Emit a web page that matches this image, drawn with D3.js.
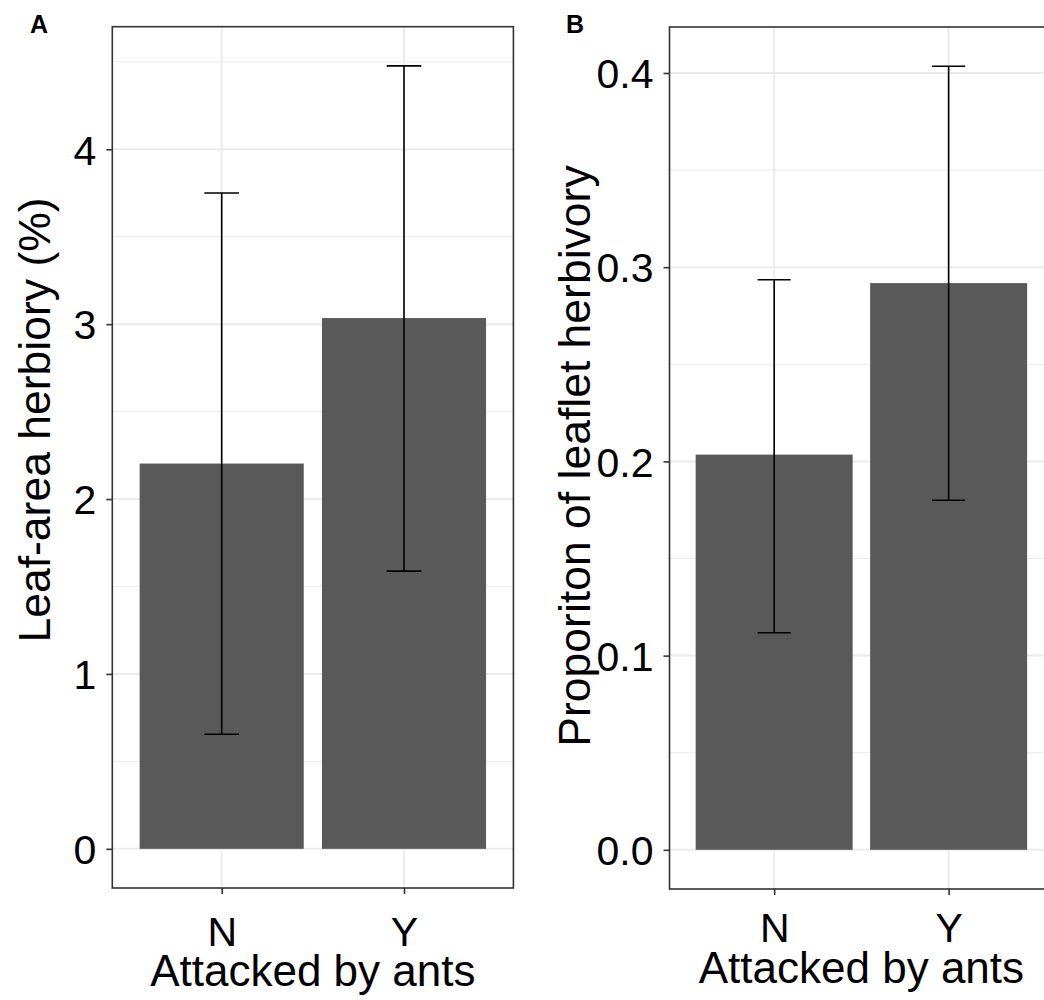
<!DOCTYPE html>
<html>
<head>
<meta charset="utf-8">
<script src="https://cdn.jsdelivr.net/npm/d3@7/dist/d3.min.js"></script>
<style>
  html, body { margin: 0; padding: 0; background: #fff; }
  svg { display: block; font-family: Arial, "Liberation Sans", sans-serif; }
</style>
</head>
<body>
<svg id="chart" width="1044" height="1000"></svg>
<script>
// ---- data ----
const categories = ["N", "Y"];
const herbMean = [2.203, 3.035];
const herbLow  = [0.655, 1.588];
const herbHigh = [3.75, 4.477];
const propMean = [0.2035, 0.2918];
const propLow  = [0.1118, 0.1800];
const propHigh = [0.2935, 0.4035];
const herbTicks = [0, 1, 2, 3, 4];
const herbTickLabels = ["0", "1", "2", "3", "4"];
const propTicks = [0, 0.1, 0.2, 0.3, 0.4];
const propTickLabels = ["0.0", "0.1", "0.2", "0.3", "0.4"];
const xTitle = "Attacked by ants";
const herbTitle = "Leaf-area herbiory (%)";
const propTitle = "Proporiton of leaflet herbivory";

const svg = d3.select("#chart");

function panel(opts) {
  const { left, right, top, bottom, mean, low, high, ticks, tickLabels, yTitle,
          yTitleX, yTitleY, tag, tagX, xTitleY, xTickY } = opts;
  const g = svg.append("g");
  const hi = d3.max(high), lo = 0;
  const pad = 0.05 * (hi - lo);
  const y = d3.scaleLinear().domain([lo - pad, hi + pad]).range([bottom, top]);
  const x = d3.scalePoint().domain(categories).range([left, right]).padding(0.6);
  const step = x.step();

  // minor ticks
  const tstep = ticks[1] - ticks[0];
  const minor = [];
  for (let i = -1; i < ticks.length; i++) {
    const v = (i < 0 ? ticks[0] - tstep : ticks[i]) + tstep / 2;
    if (v >= y.domain()[0] && v <= y.domain()[1]) minor.push(v);
  }
  g.append("rect").attr("x", left).attr("y", top).attr("width", right - left)
    .attr("height", bottom - top).attr("fill", "#fff");
  g.selectAll(".minor").data(minor).join("line")
    .attr("x1", left).attr("x2", right)
    .attr("y1", d => y(d)).attr("y2", d => y(d))
    .attr("stroke", "#ebebeb").attr("stroke-width", 1);
  g.selectAll(".majory").data(ticks).join("line")
    .attr("x1", left).attr("x2", right)
    .attr("y1", d => y(d)).attr("y2", d => y(d))
    .attr("stroke", "#ebebeb").attr("stroke-width", 2);
  g.selectAll(".majorx").data(categories).join("line")
    .attr("x1", d => x(d)).attr("x2", d => x(d))
    .attr("y1", top).attr("y2", bottom)
    .attr("stroke", "#ebebeb").attr("stroke-width", 2);

  // bars
  const bw = 0.9 * step;
  g.selectAll(".bar").data(categories).join("rect")
    .attr("x", d => x(d) - bw / 2)
    .attr("width", bw)
    .attr("y", (d, i) => y(mean[i]))
    .attr("height", (d, i) => y(0) - y(mean[i]))
    .attr("fill", "#595959");

  // error bars
  const cw = 0.19 * step;
  const eb = g.selectAll(".eb").data(categories).join("g");
  eb.append("line")
    .attr("x1", d => x(d)).attr("x2", d => x(d))
    .attr("y1", (d, i) => y(low[i])).attr("y2", (d, i) => y(high[i]))
    .attr("stroke", "#000").attr("stroke-width", 1.6);
  eb.append("line")
    .attr("x1", d => x(d) - cw / 2).attr("x2", d => x(d) + cw / 2)
    .attr("y1", (d, i) => y(high[i])).attr("y2", (d, i) => y(high[i]))
    .attr("stroke", "#000").attr("stroke-width", 1.6);
  eb.append("line")
    .attr("x1", d => x(d) - cw / 2).attr("x2", d => x(d) + cw / 2)
    .attr("y1", (d, i) => y(low[i])).attr("y2", (d, i) => y(low[i]))
    .attr("stroke", "#000").attr("stroke-width", 1.6);

  // border
  g.append("rect").attr("x", left).attr("y", top).attr("width", right - left)
    .attr("height", bottom - top).attr("fill", "none")
    .attr("stroke", "#333").attr("stroke-width", 1.6);

  // axes
  const yAxis = d3.axisLeft(y).tickValues(ticks)
    .tickFormat((d, i) => tickLabels[i]).tickSize(6).tickPadding(10);
  const ya = g.append("g").attr("transform", `translate(${left},0)`).call(yAxis);
  ya.select(".domain").remove();
  ya.selectAll(".tick line").attr("stroke", "#333").attr("stroke-width", 1.6);
  ya.selectAll(".tick text").attr("font-size", 41).attr("fill", "#000")
    .attr("font-family", "Arial, 'Liberation Sans', sans-serif").attr("dy", "0.36em");

  const xAxis = d3.axisBottom(x).tickSize(6).tickPadding(0);
  const xa = g.append("g").attr("transform", `translate(0,${bottom})`).call(xAxis);
  xa.select(".domain").remove();
  xa.selectAll(".tick line").attr("stroke", "#333").attr("stroke-width", 1.6);
  xa.selectAll(".tick text").attr("font-size", 41).attr("fill", "#000")
    .attr("font-family", "Arial, 'Liberation Sans', sans-serif")
    .attr("dy", null).attr("y", xTickY - bottom);

  // titles
  g.append("text").attr("x", (left + right) / 2).attr("y", xTitleY)
    .attr("text-anchor", "middle").attr("font-size", 44).attr("fill", "#000")
    .text(xTitle);
  g.append("text")
    .attr("transform", `translate(${yTitleX},${yTitleY}) rotate(-90)`)
    .attr("text-anchor", "middle").attr("font-size", 44.5).attr("fill", "#000")
    .text(yTitle);
  g.append("text").attr("x", tagX).attr("y", 33)
    .attr("font-size", 25).attr("font-weight", "bold").attr("fill", "#000")
    .text(tag);
}

panel({
  left: 112.3, right: 513.4, top: 26.7, bottom: 888,
  mean: herbMean, low: herbLow, high: herbHigh,
  ticks: herbTicks, tickLabels: herbTickLabels, yTitle: herbTitle,
  yTitleX: 50, yTitleY: 420, tag: "A", tagX: 30, xTitleY: 986, xTickY: 946
});
panel({
  left: 669.5, right: 1053.3, top: 27, bottom: 889,
  mean: propMean, low: propLow, high: propHigh,
  ticks: propTicks, tickLabels: propTickLabels, yTitle: propTitle,
  yTitleX: 590, yTitleY: 456, tag: "B", tagX: 566, xTitleY: 983, xTickY: 942
});
</script>
</body>
</html>
